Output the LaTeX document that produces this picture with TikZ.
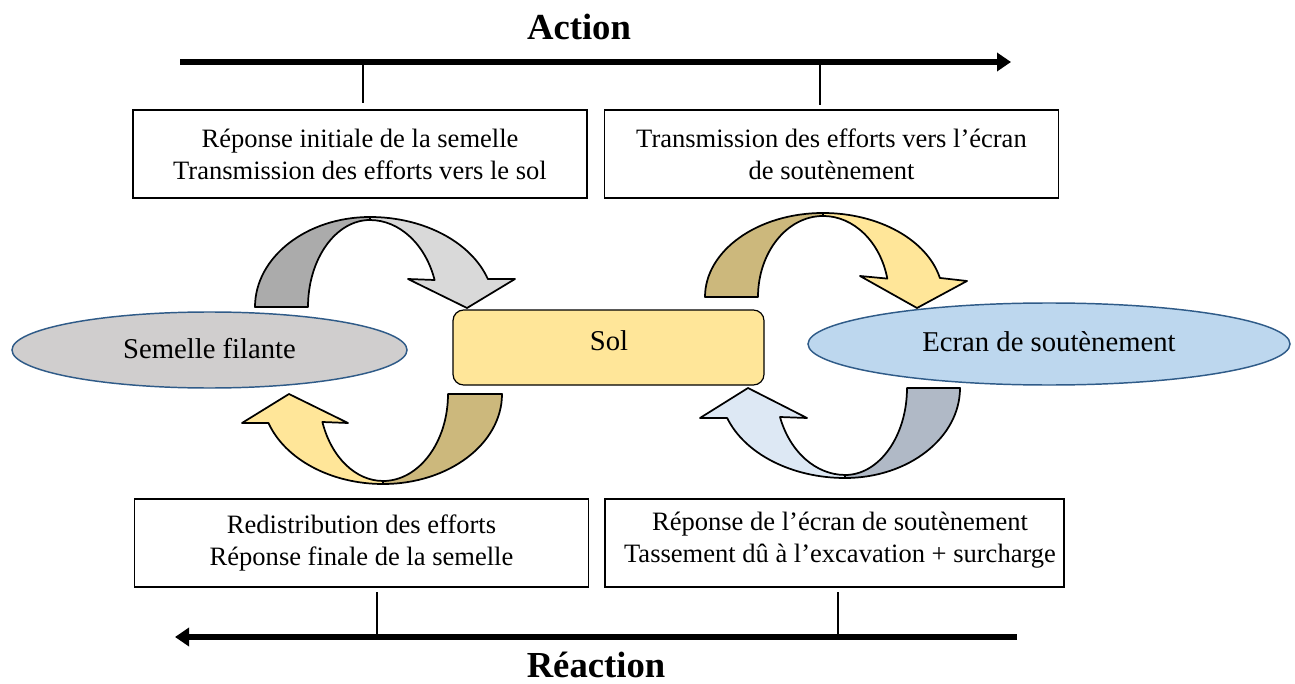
\documentclass[tikz,border=0pt]{standalone}
\usepackage{fontspec}
\setmainfont{Liberation Serif}
\usetikzlibrary{arrows.meta,shapes.geometric,calc}
\definecolor{grayDark}{HTML}{ABABAB}
\definecolor{grayLight}{HTML}{D9D9D9}
\definecolor{tan}{HTML}{CCB87C}
\definecolor{sand}{HTML}{FFE699}
\definecolor{steelDark}{HTML}{B0B9C6}
\definecolor{iceBlue}{HTML}{DDE8F4}
\definecolor{ellGray}{HTML}{D0CECE}
\definecolor{ellBlue}{HTML}{BDD7EE}
\definecolor{ellBorder}{HTML}{2F5B88}
\def\u{0.75pt}
\begin{document}
\begin{tikzpicture}[x=0.75pt,y=0.75pt,
  textbox/.style={draw=black, line width=0.9pt, fill=white, minimum width=340.5pt, minimum height=66pt, inner sep=0pt, align=center, font=\fontsize{19.9}{24}\selectfont},
  boxtext/.style={inner sep=0pt, align=center, font=\fontsize{19.9}{24}\selectfont},
  ellnode/.style={ellipse, draw=ellBorder, line width=1.1pt, inner sep=0pt},
  bigtext/.style={font=\fontsize{21.5}{26}\selectfont, inner sep=0pt},
  titletext/.style={font=\fontsize{27.5}{32}\selectfont\bfseries, inner sep=0pt},
  axisline/.style={line width=4.5pt},
  tickline/.style={line width=2.2pt},
  ribbon/.style={draw=black, line width=1.3pt, line join=round}
]
\useasboundingbox (0,0) rectangle (1295,-684);

% titles
\node[titletext] (action) at (579,-27) {Action};
\node[titletext] (reaction) at (596,-665) {Réaction};

% axes
\coordinate (aS) at (180,-62);
\coordinate (aE) at (1011,-62);
\draw[axisline,-{Triangle[length=10.5pt,width=13.5pt]}] (aS) -- (aE);
\coordinate (t1a) at (363,-62); \coordinate (t1b) at (363,-103);
\coordinate (t2a) at (820,-62); \coordinate (t2b) at (820,-105);
\draw[tickline] (t1a) -- (t1b);
\draw[tickline] (t2a) -- (t2b);

\coordinate (rS) at (1017,-637);
\coordinate (rE) at (175,-637);
\draw[axisline,-{Triangle[length=10.5pt,width=13.5pt]}] (rS) -- (rE);
\coordinate (t3a) at (377,-592); \coordinate (t3b) at (377,-637);
\coordinate (t4a) at (838,-592); \coordinate (t4b) at (838,-637);
\draw[tickline] (t3a) -- (t3b);
\draw[tickline] (t4a) -- (t4b);

% boxes
\node[textbox] (tl) at (360,-154) {Réponse initiale de la semelle\\Transmission des efforts vers le sol};
\node[textbox] (tr) at (831.5,-154) {Transmission des efforts vers l’écran\\de soutènement};
\node[textbox] (bl) at (361.5,-543) {Redistribution des efforts\\Réponse finale de la semelle};
\node[textbox, minimum width=344.25pt] (br) at (834.5,-543) {};
\node[boxtext] (brT) at (840,-540) {Réponse de l’écran de soutènement\\Tassement dû à l’excavation + surcharge};

% ellipses and Sol
\node[ellnode, fill=ellGray, minimum width=296.25pt, minimum height=57pt] (semelle) at (209.5,-350) {};
\node[bigtext] (semelleT) at (209.5,-349) {Semelle filante};
\node[ellnode, fill=ellBlue, minimum width=361.5pt, minimum height=61.5pt] (ecran) at (1049,-344) {};
\node[bigtext] (ecranT) at (1049,-342) {Ecran de soutènement};
\node[draw=black, line width=0.9pt, fill=sand, rounded corners=8pt, minimum width=233.25pt, minimum height=56.25pt, inner sep=0pt] (sol) at (608.5,-347.5) {};
\node[bigtext] (solT) at (609,-341) {Sol};

% curved arrow top-left
\path[ribbon, fill=grayDark] (255,-307) arc[start angle=180,end angle=90,x radius=115*\u,y radius=90*\u]
  -- (370,-220) arc[start angle=90,end angle=180,x radius=62*\u,y radius=87*\u] -- cycle;
\path[ribbon, fill=grayLight] (370,-217) arc[start angle=90,end angle=18.1,x radius=124*\u,y radius=90*\u]
  -- (515,-279) -- (467,-308) -- (408,-279) -- (434.6,-280.0)
  arc[start angle=18.1,end angle=90,x radius=68*\u,y radius=87*\u] -- cycle;

% curved arrow top-right
\path[ribbon, fill=tan] (705,-297) arc[start angle=180,end angle=90,x radius=118*\u,y radius=84*\u]
  -- (823,-216) arc[start angle=90,end angle=180,x radius=65*\u,y radius=81*\u] -- cycle;
\path[ribbon, fill=sand] (823,-213) arc[start angle=90,end angle=13.1,x radius=120*\u,y radius=84*\u]
  -- (967,-281) -- (917,-308) -- (860,-276) -- (887.3,-278.6)
  arc[start angle=13.1,end angle=90,x radius=66*\u,y radius=81*\u] -- cycle;

% curved arrow bottom-left
\path[ribbon, fill=tan] (502,-394) arc[start angle=0,end angle=-90,x radius=119*\u,y radius=90*\u]
  -- (383,-481) arc[start angle=-90,end angle=0,x radius=65*\u,y radius=87*\u] -- cycle;
\path[ribbon, fill=sand] (383,-484) arc[start angle=-90,end angle=-161.2,x radius=121*\u,y radius=90*\u]
  -- (242,-423) -- (289,-394) -- (348,-423) -- (322.4,-422.0)
  arc[start angle=-161.2,end angle=-90,x radius=64*\u,y radius=87*\u] -- cycle;

% curved arrow bottom-right
\path[ribbon, fill=steelDark] (960,-388) arc[start angle=0,end angle=-90,x radius=115*\u,y radius=90*\u]
  -- (845,-475) arc[start angle=-90,end angle=0,x radius=62*\u,y radius=87*\u] -- cycle;
\path[ribbon, fill=iceBlue] (845,-478) arc[start angle=-90,end angle=-160.5,x radius=125*\u,y radius=90*\u]
  -- (700,-418) -- (748,-388) -- (807,-418) -- (780.0,-417.0)
  arc[start angle=-160.5,end angle=-90,x radius=69*\u,y radius=87*\u] -- cycle;
\end{tikzpicture}
\end{document}
